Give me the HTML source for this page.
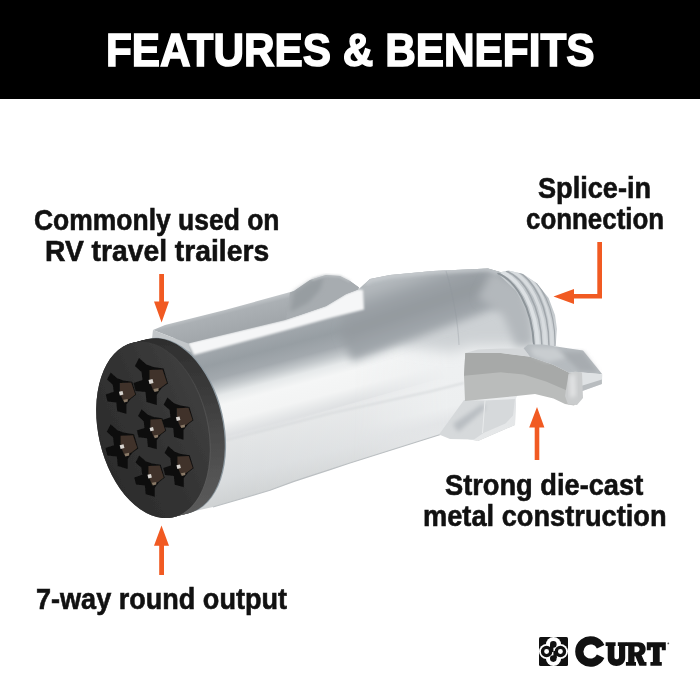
<!DOCTYPE html>
<html>
<head>
<meta charset="utf-8">
<style>
html,body{margin:0;padding:0;}
body{width:700px;height:700px;background:#fff;position:relative;overflow:hidden;font-family:"Liberation Sans",sans-serif;}
#hdr{position:absolute;left:0;top:0;width:700px;height:99px;background:#000;}
.t{position:absolute;white-space:nowrap;font-weight:bold;color:#111;transform-origin:0 0;line-height:1;}
#art{position:absolute;left:0;top:0;}
</style>
</head>
<body>
<div id="hdr"></div>
<svg id="art" width="700" height="700" viewBox="0 0 700 700">
<!--PRODUCT--><defs>
<linearGradient id="gBody" gradientUnits="userSpaceOnUse" x1="270" y1="318" x2="316" y2="492">
<stop offset="0" stop-color="#a9afb3"/>
<stop offset="0.086" stop-color="#a1a7ac"/>
<stop offset="0.17" stop-color="#979ea3"/>
<stop offset="0.25" stop-color="#a3a9ae"/>
<stop offset="0.30" stop-color="#c3c8cb"/>
<stop offset="0.345" stop-color="#e6e9ea"/>
<stop offset="0.40" stop-color="#f5f6f6"/>
<stop offset="0.49" stop-color="#f3f4f4"/>
<stop offset="0.54" stop-color="#e6e8e9"/>
<stop offset="0.57" stop-color="#dfe1e3"/>
<stop offset="0.60" stop-color="#e3e5e6"/>
<stop offset="0.80" stop-color="#dadddf"/>
<stop offset="0.92" stop-color="#d0d3d4"/>
<stop offset="1" stop-color="#cdd0d1"/>
</linearGradient>
<linearGradient id="gTaper" gradientUnits="userSpaceOnUse" x1="440" y1="268" x2="478" y2="440">
<stop offset="0" stop-color="#e9ebec"/>
<stop offset="0.40" stop-color="#eff1f2"/>
<stop offset="0.78" stop-color="#edeff0"/>
<stop offset="0.86" stop-color="#e3e5e7"/>
<stop offset="1" stop-color="#e6e8e9"/>
</linearGradient>
<linearGradient id="gBand" gradientUnits="userSpaceOnUse" x1="430" y1="268" x2="452" y2="332">
<stop offset="0" stop-color="#b4b9bd"/>
<stop offset="0.25" stop-color="#9ba1a6"/>
<stop offset="0.5" stop-color="#93999e"/>
<stop offset="0.8" stop-color="#9fa5aa"/>
<stop offset="1" stop-color="#a5abb0"/>
</linearGradient>
<filter id="soft4" x="-30%" y="-30%" width="160%" height="160%"><feGaussianBlur stdDeviation="7"/></filter>
<filter id="soft1" x="-10%" y="-30%" width="120%" height="160%"><feGaussianBlur stdDeviation="1"/></filter>
<filter id="soft3" x="-20%" y="-20%" width="140%" height="140%"><feGaussianBlur stdDeviation="4"/></filter>
<clipPath id="cBody"><path d="M165 341 L359 289 L370 279 L390 275 L433 271 L488 268.5 L500 272 L517 285 L528 310 L534 340 L532 352 L516 398 L515 425 L478 441 L442 434 L350 463 L330 469.6 L294 481.4 L270 490.3 L213 507 L195 511 Z"/></clipPath>
<linearGradient id="gTaperFade" gradientUnits="userSpaceOnUse" x1="352" y1="0" x2="450" y2="0">
<stop offset="0" stop-color="#fff" stop-opacity="0"/>
<stop offset="1" stop-color="#fff" stop-opacity="1"/>
</linearGradient>
<mask id="mTaper" maskUnits="userSpaceOnUse" x="340" y="250" width="230" height="220"><rect x="340" y="250" width="230" height="220" fill="url(#gTaperFade)"/></mask>
<linearGradient id="gKey" gradientUnits="userSpaceOnUse" x1="240" y1="304" x2="246" y2="328">
<stop offset="0" stop-color="#c6cacd"/>
<stop offset="0.25" stop-color="#abb0b4"/>
<stop offset="1" stop-color="#a2a7ab"/>
</linearGradient>
<linearGradient id="gNeck" gradientUnits="userSpaceOnUse" x1="520" y1="270" x2="545" y2="345">
<stop offset="0" stop-color="#c9ced1"/>
<stop offset="0.4" stop-color="#bcc2c6"/>
<stop offset="1" stop-color="#d3d7da"/>
</linearGradient>
<linearGradient id="gLeverTop" gradientUnits="userSpaceOnUse" x1="465" y1="350" x2="600" y2="380">
<stop offset="0" stop-color="#c4c7c8"/>
<stop offset="0.5" stop-color="#d9dcde"/>
<stop offset="1" stop-color="#c9cccf"/>
</linearGradient>
<linearGradient id="gLR" gradientUnits="userSpaceOnUse" x1="230" y1="0" x2="450" y2="0">
<stop offset="0" stop-color="#fff" stop-opacity="0"/>
<stop offset="1" stop-color="#fff" stop-opacity="0.3"/>
</linearGradient>
<linearGradient id="gRim" gradientUnits="userSpaceOnUse" x1="195" y1="345" x2="215" y2="510">
<stop offset="0" stop-color="#2f2f2f"/>
<stop offset="0.35" stop-color="#3a3a3a"/>
<stop offset="0.7" stop-color="#4c4c4c"/>
<stop offset="1" stop-color="#5a5a5a"/>
</linearGradient>
<linearGradient id="gFace" gradientUnits="userSpaceOnUse" x1="96" y1="440" x2="210" y2="415">
<stop offset="0" stop-color="#2c2c2c"/>
<stop offset="0.5" stop-color="#333"/>
<stop offset="1" stop-color="#3e3e3e"/>
</linearGradient>
<linearGradient id="gEdge" gradientUnits="userSpaceOnUse" x1="195" y1="345" x2="215" y2="510">
<stop offset="0" stop-color="#3c3c3c"/>
<stop offset="0.5" stop-color="#505050"/>
<stop offset="1" stop-color="#5e5e5e"/>
</linearGradient>
<filter id="soft" x="-5%" y="-5%" width="110%" height="110%"><feGaussianBlur stdDeviation="0.6"/></filter>
<filter id="soft2" x="-20%" y="-20%" width="140%" height="140%"><feGaussianBlur stdDeviation="2"/></filter>
<clipPath id="cNeck"><path d="M497 273 L508.6 270.5 L523 274 L537 283.5 L548.6 298 L555 315 L557 329 L555.7 346 L534 346 Z"/></clipPath>
</defs>
<g id="product" filter="url(#soft)">
<!-- main cylinder body + taper silhouette -->
<path d="M165 341 L359 289 L370 279 L390 275 L433 271 L488 268.5 L500 272 L517 285 L528 310 L534 340 L532 352 L516 398 L515 425 L478 441 L442 434 L350 463 L330 469.6 L294 481.4 L270 490.3 L213 507 L195 511 Z" fill="url(#gBody)"/>
<path d="M240 436 L350 404 L442 378 L470 400 L478 441 L442 434 L350 463 L330 469.6 L294 481.4 L270 490.3 L240 499 Z" fill="url(#gLR)"/>
<g clip-path="url(#cBody)">
<path d="M340 292 L359 289 L370 279 L390 275 L433 271 L488 268.5 L500 272 L517 285 L528 310 L534 340 L532 352 L516 398 L515 425 L478 441 L442 434 L340 466 Z" fill="url(#gTaper)" mask="url(#mTaper)"/>
<path d="M400 300 L528 280 L536 346 L470 346 L452 352 L400 345 Z" fill="#cdd1d4" filter="url(#soft4)"/>
<g filter="url(#soft3)">
<path d="M352 285 L359 283 L370 273 L390 269 L433 265 L488 262 L505 266 L522 283 L527 292 L514 300 L480 314 L416 338 L372 354 L352 361 L340 332 Z" fill="url(#gBand)"/>
</g>
<path d="M492 270 L520 286 L531 315 L534 346 L516 346 L503 315 L478 298 Z" fill="#b3b8bc" filter="url(#soft3)"/>
<path d="M365 283 L372 279.5 L392 275.5 L433 271.5 L488 269 L500 272.5" fill="none" stroke="#d3d7da" stroke-width="3" filter="url(#soft2)"/>
</g>
<!-- crease -->
<path d="M225 440.5 L330 413.5 L430 391.5 L464 383" fill="none" stroke="#d6d9db" stroke-width="1.6" filter="url(#soft1)"/>
<!-- taper seam -->
<path d="M446 271 C452 290 458 320 459 345" fill="none" stroke="#8f969b" stroke-width="1.2" opacity="0.3"/>
<!-- bottom edge line -->
<path d="M213 507 L270 490.3 L294 481.4 L330 469.6 L350 463 L442 434" fill="none" stroke="#bcc0c3" stroke-width="1.2"/>
<!-- neck -->
<path d="M497 273 L508.6 270.5 L523 274 L537 283.5 L548.6 298 L555 315 L557 329 L555.7 346 L534 346 L533 334 L527 312 L516 291 Z" fill="url(#gNeck)"/>
<g clip-path="url(#cNeck)" fill="none" stroke="#a0a6ab" stroke-width="1.5">
<path d="M501.5 272 C519.5 279 536.5 305 538 346.5" stroke="#dde1e4" stroke-width="3.5"/>
<path d="M510.5 270.5 C528.5 278 545 305 545.5 347" stroke="#d8dcdf" stroke-width="3"/>
<path d="M519.5 271 C537 280 552.5 306.5 552 347" stroke="#d6dadd" stroke-width="2.5"/>
<path d="M497 273 C515 280 532 305 534 346" stroke="#8e959a" stroke-width="2"/>
<path d="M506 271 C524 278 541 305 542 347"/>
<path d="M515 270 C533 278 549 305 549 347"/>
<path d="M524 272 C541 282 556 308 555 347" stroke-width="1.2"/>
</g>
<!-- hinge block -->
<path d="M464 400 L485 400.6 L515 399 L513 415.6 L505.5 423.5 L483.5 433 L474 439.5 L450 439 L439 434.5 Z" fill="#d6d9db"/>
<path d="M453 424 L484 403 L485 409 L458 432 Z" fill="#b9bec2" filter="url(#soft2)"/>
<path d="M485 400.6 L482.5 433" stroke="#e9ebec" stroke-width="1" fill="none"/>
<!-- lever front (lower band) -->
<path d="M465.3 353 L500.7 353 L530 356.7 L553 364.7 L569 372.8 L581 374 L581 398 L574 405.5 L565 404 L553.5 398.6 L535 394 L514 396.3 L465 401 L464 375.7 Z" fill="#babcbb"/>
<!-- lever front (upper band) -->
<path d="M465.3 353 L500.7 353 L530 356.7 L553 364.7 L569 372.8 L567 390.5 L546 381.4 L523.6 374.6 L500.7 372.3 L464 375.7 Z" fill="#a7a9a8"/>
<!-- lever top strip -->
<path d="M465.3 353 L478 349.5 L500.7 348.5 L523.6 348.3 L530 356.7 L500.7 353 Z" fill="#d4d7d9"/>
<!-- hex plate top -->
<path d="M523.6 348.3 L528 344.5 L543 344.6 L583 350.6 L602.3 374.3 L583 372.5 L569 372.8 L553 364.7 L530 356.7 Z" fill="#b6bbbf"/>
<path d="M560 352 L583 352 L598 372 L580 371 Z" fill="#a7acb0" filter="url(#soft2)"/>
<path d="M530 347 L556 348 L566 358 L548 362 L533 356 Z" fill="#c9cdd0" filter="url(#soft2)"/>
<!-- hex front face -->
<path d="M581 372.5 L602.3 374.3 L601.9 384 L581 391.5 Z" fill="#dfe2e4"/>
<path d="M581 386 L601.9 379.5 L601.9 384 L581 391.5 Z" fill="#b9bdc0"/>
<!-- thumb end -->
<path d="M568.5 374.2 L575 371.5 L582 372.5 L583 398 L577 405 L568 404.5 L565 396 Z" fill="#cacccd"/>
<path d="M569.5 376 L575 373.5 L576 396 L570 398 Z" fill="#e2e3e4" filter="url(#soft2)"/>
<!-- key white band -->
<path d="M188 343 L285 320 L326 306 L346 294 L358 289.4 L363 290 L364 309.5 L330 318 L285 330.5 L194 355 Z" fill="#f5f6f7" filter="url(#soft1)"/>
<!-- key top -->
<path d="M153 330 L165 325 L225 310 L294 291 L310 280 L326 275 L340 276 L350 281 L359 287.5 L358 289.4 L346 294 L326 306 L285 320 L188 343.5 Z" fill="url(#gKey)"/>
<path d="M290 292.5 L294 291 L310 280 L326 275 L340 276 L350 281 L359 287.5 L358 289.4 L346 294 L326 306 L300 315 L286 319 Z" fill="#a7acb0"/>
<path d="M294 292 L310 281.5 L324 277 L320 290 L308 303 L290 312 Z" fill="#979da1" filter="url(#soft2)"/>
<path d="M312 279.5 L326 275.3 L340 276.3 L350 281.3" fill="none" stroke="#c3c7ca" stroke-width="1.5" filter="url(#soft1)"/>
<!-- key front -->
<path d="M153 330 L188 343.5 L191 352 L152 338.5 Z" fill="#c3c7ca"/>
<!-- metal lip -->
<ellipse cx="169.3" cy="425.9" rx="54.5" ry="89.5" transform="rotate(-13 169.3 425.9)" fill="#8d99a1"/>
<!-- face rim -->
<ellipse cx="168.00" cy="426.20" rx="54.5" ry="89.5" transform="rotate(-13 168.00 426.20)" fill="url(#gRim)"/>
<ellipse cx="165.86" cy="426.74" rx="54.5" ry="89.5" transform="rotate(-13 165.86 426.74)" fill="url(#gRim)"/>
<ellipse cx="163.71" cy="427.29" rx="54.5" ry="89.5" transform="rotate(-13 163.71 427.29)" fill="url(#gRim)"/>
<ellipse cx="161.57" cy="427.83" rx="54.5" ry="89.5" transform="rotate(-13 161.57 427.83)" fill="url(#gRim)"/>
<ellipse cx="159.43" cy="428.37" rx="54.5" ry="89.5" transform="rotate(-13 159.43 428.37)" fill="url(#gRim)"/>
<ellipse cx="157.29" cy="428.91" rx="54.5" ry="89.5" transform="rotate(-13 157.29 428.91)" fill="url(#gRim)"/>
<ellipse cx="155.14" cy="429.46" rx="54.5" ry="89.5" transform="rotate(-13 155.14 429.46)" fill="url(#gRim)"/>
<ellipse cx="153.00" cy="430.00" rx="54.5" ry="89.5" transform="rotate(-13 153.00 430.00)" fill="url(#gRim)"/>
<ellipse cx="154" cy="429.8" rx="54.5" ry="89.5" transform="rotate(-13 154 429.8)" fill="url(#gEdge)"/>
<ellipse cx="153" cy="430" rx="54.5" ry="89.5" transform="rotate(-13 153 430)" fill="url(#gFace)"/>
<!-- holes -->
<g id="holes">
<g transform="translate(152.5 383)"><path d="M-13.5 -25 L-6 -18.5 L1 -16 L11 -14.5 L15.5 0.4 L9.5 4.7 L4.4 11.5 L4.4 22 L-6 19 L-7 9 L-17 8 L-19 0 L-10 -3 L-11 -11 L-17.6 -17 Z" fill="#0f0f0f"/>
<path d="M-3 -13 L10 -13.5 L14.5 0 L8 5 L1 8 L-3 -2 Z" fill="#3f3229"/>
<path d="M-4 -3 L0 -4 L1 0 L-3 1 Z" fill="#d8d4d0"/>
<path d="M1 6 L6 5 L6 8 L2 9 Z" fill="#8a7a68"/></g>
<g transform="translate(122.5 394.5) scale(0.88)"><path d="M-13.5 -25 L-6 -18.5 L1 -16 L11 -14.5 L15.5 0.4 L9.5 4.7 L4.4 11.5 L4.4 22 L-6 19 L-7 9 L-17 8 L-19 0 L-10 -3 L-11 -11 L-17.6 -17 Z" fill="#0f0f0f"/>
<path d="M-3 -13 L10 -13.5 L14.5 0 L8 5 L1 8 L-3 -2 Z" fill="#3f3229"/>
<path d="M-4 -3 L0 -4 L1 0 L-3 1 Z" fill="#d8d4d0"/>
<path d="M1 6 L6 5 L6 8 L2 9 Z" fill="#8a7a68"/></g>
<g transform="translate(179.5 420) scale(0.9)"><path d="M-13.5 -25 L-6 -18.5 L1 -16 L11 -14.5 L15.5 0.4 L9.5 4.7 L4.4 11.5 L4.4 22 L-6 19 L-7 9 L-17 8 L-19 0 L-10 -3 L-11 -11 L-17.6 -17 Z" fill="#0f0f0f"/>
<path d="M-3 -13 L10 -13.5 L14.5 0 L8 5 L1 8 L-3 -2 Z" fill="#3f3229"/>
<path d="M-4 -3 L0 -4 L1 0 L-3 1 Z" fill="#d8d4d0"/>
<path d="M1 6 L6 5 L6 8 L2 9 Z" fill="#8a7a68"/></g>
<g transform="translate(153 430.5) scale(0.85)"><path d="M-13.5 -25 L-6 -18.5 L1 -16 L11 -14.5 L15.5 0.4 L9.5 4.7 L4.4 11.5 L4.4 22 L-6 19 L-7 9 L-17 8 L-19 0 L-10 -3 L-11 -11 L-17.6 -17 Z" fill="#0f0f0f"/>
<path d="M-3 -13 L10 -13.5 L14.5 0 L8 5 L1 8 L-3 -2 Z" fill="#3f3229"/>
<path d="M-4 -3 L0 -4 L1 0 L-3 1 Z" fill="#d8d4d0"/>
<path d="M1 6 L6 5 L6 8 L2 9 Z" fill="#8a7a68"/></g>
<g transform="translate(123.5 448) scale(0.95)"><path d="M-13.5 -25 L-6 -18.5 L1 -16 L11 -14.5 L15.5 0.4 L9.5 4.7 L4.4 11.5 L4.4 22 L-6 19 L-7 9 L-17 8 L-19 0 L-10 -3 L-11 -11 L-17.6 -17 Z" fill="#0f0f0f"/>
<path d="M-3 -13 L10 -13.5 L14.5 0 L8 5 L1 8 L-3 -2 Z" fill="#3f3229"/>
<path d="M-4 -3 L0 -4 L1 0 L-3 1 Z" fill="#d8d4d0"/>
<path d="M1 6 L6 5 L6 8 L2 9 Z" fill="#8a7a68"/></g>
<g transform="translate(180 468) scale(0.88)"><path d="M-13.5 -25 L-6 -18.5 L1 -16 L11 -14.5 L15.5 0.4 L9.5 4.7 L4.4 11.5 L4.4 22 L-6 19 L-7 9 L-17 8 L-19 0 L-10 -3 L-11 -11 L-17.6 -17 Z" fill="#0f0f0f"/>
<path d="M-3 -13 L10 -13.5 L14.5 0 L8 5 L1 8 L-3 -2 Z" fill="#3f3229"/>
<path d="M-4 -3 L0 -4 L1 0 L-3 1 Z" fill="#d8d4d0"/>
<path d="M1 6 L6 5 L6 8 L2 9 Z" fill="#8a7a68"/></g>
<g transform="translate(151 477.5) scale(0.88)"><path d="M-13.5 -25 L-6 -18.5 L1 -16 L11 -14.5 L15.5 0.4 L9.5 4.7 L4.4 11.5 L4.4 22 L-6 19 L-7 9 L-17 8 L-19 0 L-10 -3 L-11 -11 L-17.6 -17 Z" fill="#0f0f0f"/>
<path d="M-3 -13 L10 -13.5 L14.5 0 L8 5 L1 8 L-3 -2 Z" fill="#3f3229"/>
<path d="M-4 -3 L0 -4 L1 0 L-3 1 Z" fill="#d8d4d0"/>
<path d="M1 6 L6 5 L6 8 L2 9 Z" fill="#8a7a68"/></g>
</g>
</g>
<!--/PRODUCT-->
<g id="arrows" fill="#f15a22">
<path d="M159.2 274H164V301.5H169L161.6 322.5L154 301.5H159.2Z"/>
<path d="M159.2 575H164V545.8H169L161.5 525.5L154 545.8H159.2Z"/>
<path d="M534.7 460H539.3V427.5H544.4L537 407L529.2 427.5H534.7Z"/>
<path d="M597.3 242H602V298.6H574V304L553.5 296.4L574 289V294H597.3Z"/>
</g>
<g id="logo">
<rect x="539" y="637" width="29" height="29" rx="1.5" fill="#111"/>
<g fill="#fff">
<circle cx="553.5" cy="644.6" r="7.6"/><circle cx="553.5" cy="658.4" r="7.6"/>
<circle cx="546.6" cy="651.5" r="7.6"/><circle cx="560.4" cy="651.5" r="7.6"/>
</g>
<g fill="none" stroke="#111" stroke-width="3.3">
<circle cx="546.6" cy="651.5" r="4.1"/><circle cx="560.4" cy="651.5" r="4.1"/>
</g>
<g fill="#111">
<circle cx="553.3" cy="644.4" r="3.3"/><circle cx="553.3" cy="658.6" r="3.3"/>
<rect x="550" y="645" width="3.4" height="7"/>
<rect x="553.4" y="651" width="3.4" height="7"/>
</g>
</g>
<g id="curt" fill="#111">
<path d="M600.65 646.77 A11.2 11.2 0 1 0 600.65 656.23" fill="none" stroke="#111" stroke-width="8.2"/>
<!-- U -->
<path d="M605.6 642.2H615.6V646H614.4V657.2C614.4 660 619 660 619 657.2V646H617.8V642.2H626.3V646H625.2V658C625.2 668.6 607.7 668.6 607.7 658V646H605.6Z"/>
<!-- R -->
<path d="M625.9 642.2H638.5C647.5 642.2 647.5 653.6 641.6 655.2L644.6 661.9H646.5V665.8H639.4L635.4 656.3H634.5V661.9H636V665.8H625.9V661.9H628.2V646H625.9ZM634.5 646.6V652.2H637C640.4 652.2 640.4 646.6 637 646.6Z" fill-rule="evenodd"/>
<!-- T -->
<path d="M646.8 642.2H665.8V650.2H661.8V647.2H659.7V661.9H661.8V665.8H650.4V661.9H652.9V647.2H650.8V650.2H646.8Z"/>
<circle cx="668.3" cy="643.4" r="0.9" fill="#555"/>
</g>
</svg>
<div class="t" id="title" style="font-size:47px;left:105.6px;top:25.9px;transform:scaleX(0.9009);color:#fff;-webkit-text-stroke:1.5px #fff;">FEATURES &amp; BENEFITS</div>
<div class="t" id="l1a" style="font-size:30px;left:33.72px;top:204.61px;transform:scaleX(0.8819);color:#111;-webkit-text-stroke:0.6px #111;">Commonly used on</div>
<div class="t" id="l1b" style="font-size:30px;left:44.72px;top:236.11px;transform:scaleX(0.9421);color:#111;-webkit-text-stroke:0.6px #111;">RV travel trailers</div>
<div class="t" id="l2a" style="font-size:30px;left:537.9px;top:172.61px;transform:scaleX(0.9041);color:#111;-webkit-text-stroke:0.6px #111;">Splice-in</div>
<div class="t" id="l2b" style="font-size:30px;left:525.84px;top:204.11px;transform:scaleX(0.8633);color:#111;-webkit-text-stroke:0.6px #111;">connection</div>
<div class="t" id="l3a" style="font-size:30px;left:445.09px;top:469.61px;transform:scaleX(0.9078);color:#111;-webkit-text-stroke:0.6px #111;">Strong die-cast</div>
<div class="t" id="l3b" style="font-size:30px;left:422.68px;top:501.21px;transform:scaleX(0.9075);color:#111;-webkit-text-stroke:0.6px #111;">metal construction</div>
<div class="t" id="l4" style="font-size:30px;left:35.7px;top:584.0px;transform:scaleX(0.9018);color:#111;-webkit-text-stroke:0.6px #111;">7-way round output</div>
</body>
</html>
